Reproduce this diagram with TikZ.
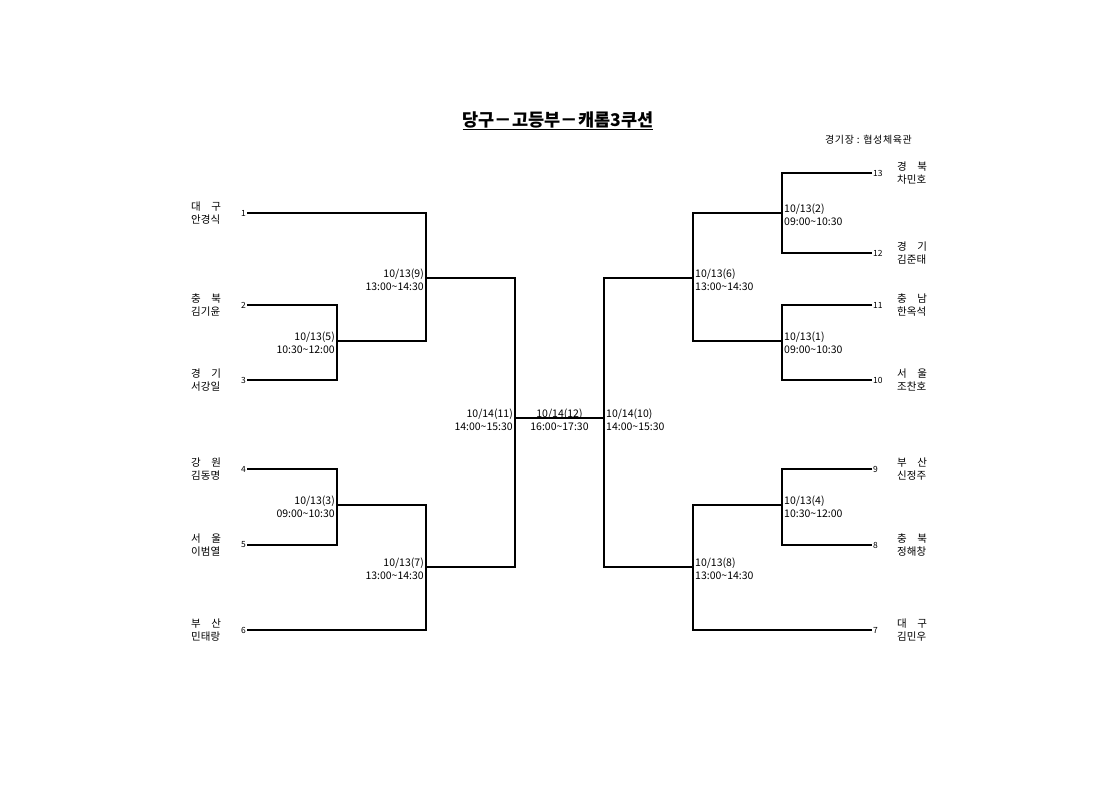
\documentclass[tikz,border=0pt]{standalone}
\usepackage{fontspec}
\setmainfont{Noto Sans CJK KR}
\begin{document}
\begin{tikzpicture}[x=1pt,y=-1pt,
  br/.style={line width=1.1pt},
  num/.style={font=\fontsize{8.5}{9}\selectfont, inner sep=1pt},
  pname/.style={font=\fontsize{10.5}{13}\selectfont, align=left, inner sep=0pt},
  dlab/.style={font=\fontsize{10.5}{13.5}\selectfont, inner sep=0pt},
]
\useasboundingbox (0,0) rectangle (1120,792);
% title
\node[font=\fontsize{17.5}{19}\selectfont\bfseries, inner sep=0pt] (title) at (558,121) {\underline{당구－고등부－캐롬3쿠션}};
\node[font=\fontsize{10}{11}\selectfont\addfontfeature{LetterSpace=6}, anchor=west, inner sep=0pt] (venue) at (825,140) {경기장 : 협성체육관};
% left entries
\node[num,anchor=east] (n1) at (247,213) {1};
\node[num,anchor=east] (n2) at (247,305) {2};
\node[num,anchor=east] (n3) at (247,380) {3};
\node[num,anchor=east] (n4) at (247,469) {4};
\node[num,anchor=east] (n5) at (247,545) {5};
\node[num,anchor=east] (n6) at (247,630) {6};
\node[pname,anchor=west] (p1) at (191,213) {대\hspace{1em}구\\안경식};
\node[pname,anchor=west] (p2) at (191,305) {충\hspace{1em}북\\김기윤};
\node[pname,anchor=west] (p3) at (191,380) {경\hspace{1em}기\\서강일};
\node[pname,anchor=west] (p4) at (191,469) {강\hspace{1em}원\\김동명};
\node[pname,anchor=west] (p5) at (191,545) {서\hspace{1em}울\\이범열};
\node[pname,anchor=west] (p6) at (191,630) {부\hspace{1em}산\\민태랑};
% right entries
\node[num,anchor=west] (n13) at (872,173) {13};
\node[num,anchor=west] (n12) at (872,253) {12};
\node[num,anchor=west] (n11) at (872,305) {11};
\node[num,anchor=west] (n10) at (872,380) {10};
\node[num,anchor=west] (n9) at (872,469) {9};
\node[num,anchor=west] (n8) at (872,545) {8};
\node[num,anchor=west] (n7) at (872,630) {7};
\node[pname,anchor=west] (p13) at (897,173) {경\hspace{1em}북\\차민호};
\node[pname,anchor=west] (p12) at (897,253) {경\hspace{1em}기\\김준태};
\node[pname,anchor=west] (p11) at (897,305) {충\hspace{1em}남\\한옥석};
\node[pname,anchor=west] (p10) at (897,380) {서\hspace{1em}울\\조찬호};
\node[pname,anchor=west] (p9) at (897,469) {부\hspace{1em}산\\신정주};
\node[pname,anchor=west] (p8) at (897,545) {충\hspace{1em}북\\정해창};
\node[pname,anchor=west] (p7) at (897,630) {대\hspace{1em}구\\김민우};
% match points
\coordinate (m5) at (337,341);
\coordinate (m9) at (426,278);
\coordinate (m3) at (337,505);
\coordinate (m7) at (426,567);
\coordinate (m11) at (515,418);
\coordinate (m10) at (604,418);
\coordinate (m6) at (693,278);
\coordinate (m8) at (693,567);
\coordinate (m2) at (782,213);
\coordinate (m1) at (782,341);
\coordinate (m4) at (782,505);
% bracket lines
\draw[br] (n2.east) -| (m5) |- (n3.east);
\draw[br] (n1.east) -| (m9) |- (m5);
\draw[br] (n4.east) -| (m3) |- (n5.east);
\draw[br] (m3) -| (m7) |- (n6.east);
\draw[br] (m9) -| (m11) |- (m7);
\draw[br] (m11) -- (m10);
\draw[br] (m6) -| (m10) |- (m8);
\draw[br] (n13.west) -| (m2) |- (n12.west);
\draw[br] (m2) -| (m6) |- (m1);
\draw[br] (n11.west) -| (m1) |- (n10.west);
\draw[br] (n9.west) -| (m4) |- (n8.west);
\draw[br] (m4) -| (m8) |- (n7.west);
% date labels
\node[dlab,anchor=east,align=right] (d5) at (335,343) {10/13(5)\\10:30\textasciitilde12:00};
\node[dlab,anchor=east,align=right] (d9) at (424,280) {10/13(9)\\13:00\textasciitilde14:30};
\node[dlab,anchor=east,align=right] (d3) at (335,507) {10/13(3)\\09:00\textasciitilde10:30};
\node[dlab,anchor=east,align=right] (d7) at (424,569) {10/13(7)\\13:00\textasciitilde14:30};
\node[dlab,anchor=east,align=right] (d11) at (513,420) {10/14(11)\\14:00\textasciitilde15:30};
\node[dlab,align=center] (d12) at (559.5,420) {10/14(12)\\16:00\textasciitilde17:30};
\node[dlab,anchor=west,align=left] (d10) at (606,420) {10/14(10)\\14:00\textasciitilde15:30};
\node[dlab,anchor=west,align=left] (d6) at (695,280) {10/13(6)\\13:00\textasciitilde14:30};
\node[dlab,anchor=west,align=left] (d8) at (695,569) {10/13(8)\\13:00\textasciitilde14:30};
\node[dlab,anchor=west,align=left] (d2) at (784,215) {10/13(2)\\09:00\textasciitilde10:30};
\node[dlab,anchor=west,align=left] (d1) at (784,343) {10/13(1)\\09:00\textasciitilde10:30};
\node[dlab,anchor=west,align=left] (d4) at (784,507) {10/13(4)\\10:30\textasciitilde12:00};
\end{tikzpicture}
\end{document}
